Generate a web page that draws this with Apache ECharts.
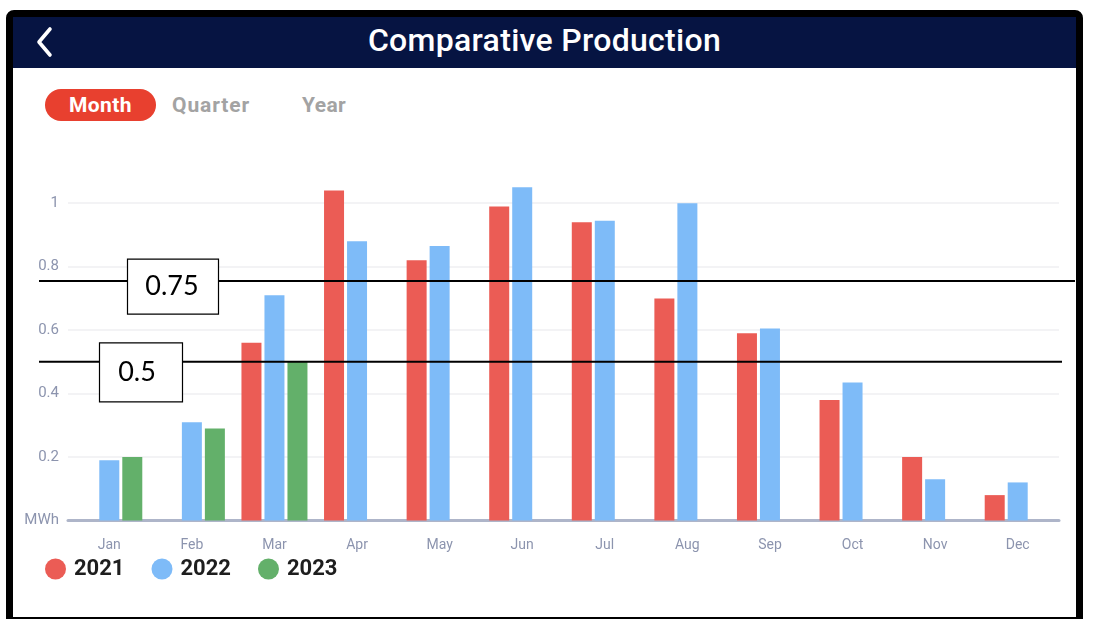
<!DOCTYPE html>
<html>
<head>
<meta charset="utf-8">
<script src="https://cdn.jsdelivr.net/npm/echarts@6/dist/echarts.min.js"></script>
<style>
html,body{margin:0;padding:0;width:1093px;height:619px;overflow:hidden;background:#fff;font-family:Roboto,"Open Sans",sans-serif;}
#frame{position:absolute;left:6px;top:10px;width:1063px;height:600px;border:7px solid #000;border-radius:8px 8px 0 0;background:#fff;}
#header{position:absolute;left:0;top:0;width:1063px;height:51px;background:#061442;}
#title{position:absolute;left:0;top:0;width:1063px;height:46px;line-height:46px;text-align:center;color:#fff;font-size:32px;font-weight:500;font-family:Roboto,sans-serif;letter-spacing:0.3px;}
#back{position:absolute;left:22px;top:8px;}
#tabs{position:absolute;left:0;top:65px;}
.tab{position:absolute;top:7px;height:32px;line-height:32px;font-size:21px;font-weight:700;color:#A3A3A3;font-family:Roboto,sans-serif;letter-spacing:0.4px;}
#month{left:32px;width:111px;border-radius:16px;background:#E8402F;color:#fff;text-align:center;}
#quarter{left:159px;letter-spacing:0.9px;}
#chart{position:absolute;left:0;top:0;width:1093px;height:619px;}
</style>
</head>
<body>
<div id="frame">
  <div id="header">
    <svg id="back" width="24" height="34" viewBox="0 0 24 34"><polyline points="15,4 4,17 15,30" fill="none" stroke="#fff" stroke-width="3.6" stroke-linecap="round" stroke-linejoin="round"/></svg>
    <div id="title">Comparative Production</div>
  </div>
  <div id="tabs">
    <div class="tab" id="month">Month</div>
    <div class="tab" id="quarter">Quarter</div>
    <div class="tab" style="left:289px">Year</div>
  </div>
</div>
<div id="chart"></div>
<script>
const months = ['Jan','Feb','Mar','Apr','May','Jun','Jul','Aug','Sep','Oct','Nov','Dec'];
const seriesNames = ['2021','2022','2023'];
const data2021 = [null, null, 0.56, 1.04, 0.82, 0.99, 0.94, 0.70, 0.59, 0.38, 0.20, 0.08];
const data2022 = [0.19, 0.31, 0.71, 0.88, 0.865, 1.05, 0.945, 1.00, 0.605, 0.435, 0.13, 0.12];
const data2023 = [0.20, 0.29, 0.50, null, null, null, null, null, null, null, null, null];
const refLines = [0.75, 0.5];
const refLabels = ['0.75', '0.5'];

const colors = ['#EB5C55', '#7EBBF8', '#63B06A'];
const chart = echarts.init(document.getElementById('chart'), null, {renderer:'canvas'});
const barStyle = (i) => ({
  name: seriesNames[i], type: 'bar', barWidth: 20, barGap: '15%',
  itemStyle: {color: colors[i]},
  data: [data2021, data2022, data2023][i]
});
chart.setOption({
  backgroundColor: 'transparent',
  animation: false,
  grid: {left: 68, right: 34, top: 171.5, bottom: 98.5},
  legend: {
    data: seriesNames, icon: 'circle', left: 45, top: 558, padding: 0,
    itemWidth: 21, itemHeight: 21, itemGap: 27,
    textStyle: {fontSize: 22, fontWeight: 'bold', color: '#1E1E1E', fontFamily: 'Roboto', padding: [0,0,0,3]}
  },
  xAxis: {
    type: 'category', data: months,
    axisLine: {show: true, lineStyle: {color: '#AEB5C9', width: 3}},
    axisTick: {show: false},
    axisLabel: {margin: 18, fontSize: 14, color: '#8C94AE', fontFamily: 'Roboto'}
  },
  yAxis: {
    type: 'value', min: 0, max: 1.1, interval: 0.2,
    axisLine: {show: false}, axisTick: {show: false},
    axisLabel: {margin: 9, fontSize: 15, color: '#8C94AE', fontFamily: 'Roboto', showMaxLabel: false,
      formatter: v => v === 0 ? 'MWh' : (v > 1.05 ? '' : String(+v.toFixed(2)))},
    splitLine: {show: true, showMaxLine: false, lineStyle: {color: '#EFEFF2', width: 1.5}}
  },
  series: [barStyle(0), barStyle(1), barStyle(2)]
});

// annotation lines and boxes placed through the y axis scale
const y75 = chart.convertToPixel({yAxisIndex: 0}, refLines[0]);
const y50 = chart.convertToPixel({yAxisIndex: 0}, refLines[1]);
const textFont = {fontSize: 27, fontFamily: 'Lato', fill: '#000', align: 'center', verticalAlign: 'middle'};
chart.setOption({
  graphic: [
    {type: 'line', z: 100, shape: {x1: 39, y1: y75 - 1.5, x2: 1075, y2: y75 - 1.5}, style: {stroke: '#000', lineWidth: 2}},
    {type: 'line', z: 100, shape: {x1: 39, y1: y50, x2: 1062, y2: y50}, style: {stroke: '#000', lineWidth: 2}},
    {type: 'rect', z: 101, shape: {x: 127.5, y: y75 - 23.5, width: 91, height: 55}, style: {fill: '#fff', stroke: '#000', lineWidth: 1.2}},
    {type: 'text', z: 102, style: Object.assign({x: 172, y: y75 + 4, text: refLabels[0]}, textFont)},
    {type: 'rect', z: 101, shape: {x: 99.5, y: y50 - 19, width: 83, height: 59}, style: {fill: '#fff', stroke: '#000', lineWidth: 1.2}},
    {type: 'text', z: 102, style: Object.assign({x: 137, y: y50 + 10, text: refLabels[1]}, textFont)}
  ]
});
</script>
</body>
</html>
